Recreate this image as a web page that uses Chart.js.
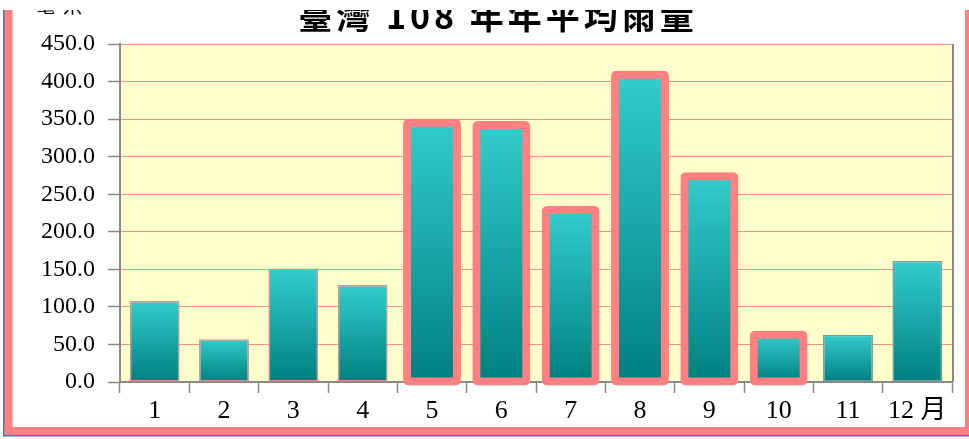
<!DOCTYPE html>
<html><head><meta charset="utf-8">
<script src="https://cdn.jsdelivr.net/npm/chart.js@4.4.1/dist/chart.umd.min.js"></script>
<style>
html,body{margin:0;padding:0;background:#fff;width:969px;height:439px;overflow:hidden}
#wrap{position:absolute;left:0;top:10px;width:969px;height:429px}
</style></head><body>
<div id="wrap"><canvas id="c"></canvas></div>
<script>
const months = ['1','2','3','4','5','6','7','8','9','10','11','12 月'];
const rainfall = [108, 57, 151, 129, 345, 342, 229, 409, 274, 63, 63, 161];
const highlighted = [false,false,false,false,true,true,true,true,true,true,false,false];
const yTickLabels = ['0.0','50.0','100.0','150.0','200.0','250.0','300.0','350.0','400.0','450.0'];
const titleText = '臺灣 108 年年平均雨量';
const unitText = '毫米';

const PINK = '#FF8080';
const GRAY = '#8a8a8a';

const framePlugin = {
  id: 'frame',
  beforeDraw(chart) {
    const {ctx, chartArea: a} = chart;
    ctx.save();
    ctx.fillStyle = '#FFFFCC';
    ctx.fillRect(a.left, a.top, a.right - a.left, a.bottom - a.top);
    ctx.fillStyle = '#4a6fb5';
    ctx.fillRect(3, 0, 2, 426.5);
    ctx.fillRect(3, 424.5, 966, 2);
    ctx.fillStyle = PINK;
    ctx.fillRect(4.5, 0, 8, 425);
    ctx.fillRect(4.5, 417, 965, 8);
    ctx.fillRect(965, 0, 4, 425);
    ctx.restore();
  },
  beforeDatasetsDraw(chart) {
    const {ctx, chartArea: a} = chart;
    ctx.save();
    ctx.strokeStyle = GRAY;
    ctx.lineWidth = 2;
    ctx.beginPath();
    ctx.moveTo(a.right + 1, a.top);
    ctx.lineTo(a.right + 1, a.bottom);
    ctx.stroke();
    ctx.restore();
  },
  afterDraw(chart) {
    const {ctx} = chart;
    ctx.save();
    ctx.fillStyle = '#000';
    ctx.textAlign = 'center';
    ctx.textBaseline = 'alphabetic';
    ctx.font = "bold 34px 'Noto Sans CJK TC'";
    ctx.letterSpacing = '4px';
    ctx.fillText(titleText, 498, 19);
    ctx.font = "19px 'Noto Sans CJK TC'";
    ctx.letterSpacing = '8px';
    ctx.fillText(unitText, 63, 3);
    ctx.restore();
  }
};

const gradFor = (c) => {
  const chart = c.chart;
  if (c.type !== 'data' || !chart.scales || !chart.scales.y) return '#1aa6a6';
  const y = chart.scales.y;
  const top = y.getPixelForValue(rainfall[c.dataIndex]);
  const bot = y.getPixelForValue(0);
  if (!isFinite(top) || !isFinite(bot) || top === bot) return '#1aa6a6';
  const g = chart.ctx.createLinearGradient(0, top, 0, bot);
  g.addColorStop(0, '#33CCCC');
  g.addColorStop(1, '#008080');
  return g;
};

new Chart(document.getElementById('c'), {
  type: 'bar',
  data: {
    labels: months,
    datasets: [{
      data: rainfall,
      backgroundColor: gradFor,
      borderColor: (c) => highlighted[c.dataIndex] ? PINK : (c.dataIndex < 4 ? '#d49090' : '#6f9f9f'),
      borderWidth: (c) => highlighted[c.dataIndex] ? 8 : 1.5,
      inflateAmount: (c) => highlighted[c.dataIndex] ? 4 : 0,
      borderSkipped: false,
      borderRadius: (c) => highlighted[c.dataIndex] ? 5 : 0,
      barPercentage: 0.72,
      categoryPercentage: 1,
      clip: false
    }]
  },
  options: {
    responsive: true,
    maintainAspectRatio: false,
    animation: false,
    devicePixelRatio: 1,
    layout: {padding: {left: 0, right: 17, top: 34, bottom: 0}},
    plugins: {legend: {display: false}, tooltip: {enabled: false}, title: {display: false}},
    scales: {
      x: {
        afterFit(s) { s.height = 57; },
        grid: {display: true, drawOnChartArea: false, drawTicks: true, tickLength: 11, tickColor: GRAY, tickWidth: 1.5, offset: true},
        border: {display: true, color: GRAY, width: 2},
        ticks: {color: '#000', padding: 3, maxRotation: 0, autoSkip: false,
          font: {family: "'Liberation Serif', 'Noto Sans CJK TC', serif", size: 26}}
      },
      y: {
        min: 0, max: 450,
        afterFit(s) { s.width = 120; },
        grid: {color: '#FF8C8C', lineWidth: 1, drawTicks: true, tickLength: 12, tickColor: GRAY, tickWidth: 1.5},
        border: {display: true, color: GRAY, width: 2},
        ticks: {stepSize: 50, color: '#000', padding: 13,
          callback: (v) => yTickLabels[Math.round(v / 50)],
          font: {family: "'Liberation Serif', serif", size: 24}}
      }
    }
  },
  plugins: [framePlugin]
});
</script>
</body></html>
